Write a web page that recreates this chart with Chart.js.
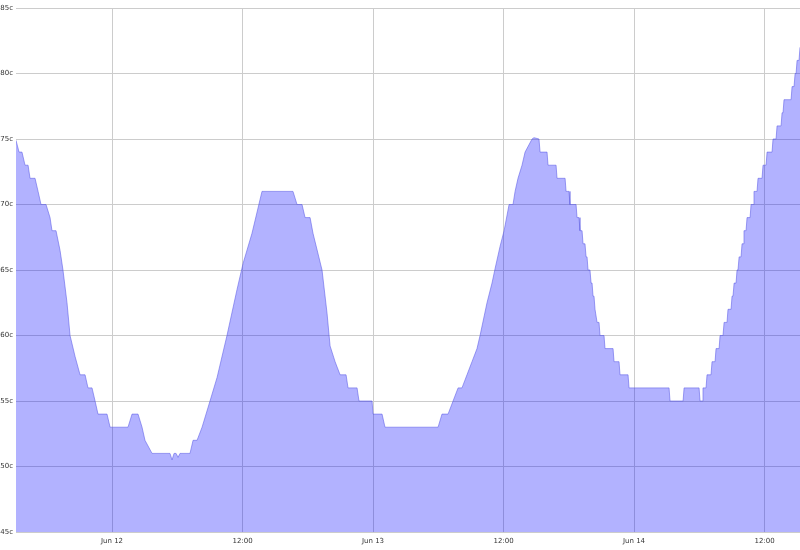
<!DOCTYPE html>
<html>
<head>
<meta charset="utf-8">
<script src="https://cdn.jsdelivr.net/npm/chart.js@4"></script>
<style>
  body { margin: 0; background: #fff; }
  #wrap { width: 800px; height: 550px; }
</style>
</head>
<body>
<div id="wrap"><canvas id="tempChart"></canvas></div>
<script>
// hours since Jun 12 00:00
const hours = [
  -8.83, -8.55, -8.28, -8.00, -7.72, -7.54, -7.08, -6.80, -6.53, -6.07,
  -5.70, -5.52, -5.15, -4.78, -4.51, -4.14, -3.86, -3.40, -2.94, -2.48,
  -2.21, -1.84, -1.56, -1.29, -0.46, -0.18, 1.47, 1.84, 2.39, 2.76,
  3.03, 3.68, 5.33, 5.52, 5.70, 5.89, 6.07, 6.25, 7.17, 7.45,
  7.82, 8.28, 9.01, 9.66, 10.57, 11.49, 12.05, 12.87, 13.79, 16.64,
  17.01, 17.47, 17.75, 18.21, 18.48, 19.31, 19.77, 20.05, 20.51, 20.97,
  21.52, 21.70, 22.53, 22.71, 23.91, 24.00, 24.83, 25.10, 29.98, 30.34,
  30.90, 31.36, 31.82, 32.18, 32.64, 33.10, 33.56, 33.84, 34.48, 34.94,
  35.22, 35.68, 36.05, 36.51, 36.87, 37.06, 37.33, 37.70, 37.98, 38.62,
  38.80, 39.26, 39.36, 40.00, 40.09, 40.83, 40.92, 41.66, 41.75, 42.02,
  42.11, 42.67, 42.76, 42.94, 43.03, 43.22, 43.31, 43.49, 43.59, 43.68,
  43.77, 43.95, 44.05, 44.14, 44.23, 44.32, 44.41, 44.50, 44.60, 44.78,
  44.87, 45.24, 45.33, 46.07, 46.16, 46.62, 46.71, 47.45, 47.54, 51.22,
  51.31, 52.51, 52.60, 53.98, 54.07, 54.25, 54.34, 54.62, 54.71, 55.08,
  55.17, 55.45, 55.54, 55.82, 55.91, 56.18, 56.28, 56.55, 56.64, 56.92,
  57.01, 57.10, 57.20, 57.38, 57.47, 57.56, 57.66, 57.84, 57.93, 58.02,
  58.11, 58.30, 58.39, 58.67, 58.76, 58.94, 59.03, 59.31, 59.40, 59.77,
  59.86, 60.14, 60.23, 60.69, 60.78, 61.06, 61.15, 61.52, 61.61, 61.70,
  61.79, 62.44, 62.53, 62.71, 62.81, 62.90, 62.99, 63.17, 63.26
];
const temps = [
  74.9, 74, 74, 73, 73, 72, 72, 71, 70, 70,
  69, 68, 68, 66.5, 65, 62.5, 60, 58.4, 57, 57,
  56, 56, 55, 54, 54, 53, 53, 54, 54, 53,
  52, 51, 51, 50.5, 51, 51, 50.7, 51, 51, 52,
  52, 53, 55, 56.8, 60, 63.5, 65.5, 67.8, 71, 71,
  70, 70, 69, 69, 67.8, 65, 61.7, 59.2, 58, 57,
  57, 56, 56, 55, 55, 54, 54, 53, 53, 54,
  54, 55, 56, 56, 57, 58, 59, 60, 62.5, 64,
  65.1, 66.8, 68, 70, 70, 71, 72, 73, 74, 75,
  75.1, 75, 74, 74, 73, 73, 72, 72, 71, 71,
  70, 70, 69, 69, 68, 68, 67, 67, 66, 66,
  65, 65, 64, 64, 63, 63, 62, 62, 61, 61,
  60, 60, 59, 59, 58, 58, 57, 57, 56, 56,
  55, 55, 56, 56, 55, 55, 56, 56, 57, 57,
  58, 58, 59, 59, 60, 60, 61, 61, 62, 62,
  63, 63, 64, 64, 65, 65, 66, 66, 67, 67,
  68, 68, 69, 69, 70, 70, 71, 71, 72, 72,
  73, 73, 74, 74, 75, 75, 76, 76, 77, 77,
  78, 78, 79, 79, 80, 80, 81, 81, 82
];
const tickHours = [0, 12, 24, 36, 48, 60];
const tickLabels = ['Jun 12', '12:00', 'Jun 13', '12:00', 'Jun 14', '12:00'];
const yTicks = [45, 50, 55, 60, 65, 70, 75, 80, 85];

const points = hours.map((h, i) => ({ x: h, y: temps[i] }));
const tickFont = { family: 'DejaVu Sans', size: 7 };

new Chart(document.getElementById('tempChart'), {
  type: 'line',
  data: {
    datasets: [{
      data: points,
      borderColor: 'rgba(90, 90, 230, 0.55)',
      borderWidth: 1,
      backgroundColor: 'rgba(0, 0, 255, 0.3)',
      fill: 'start',
      pointRadius: 0,
      tension: 0
    }]
  },
  options: {
    responsive: true,
    maintainAspectRatio: false,
    animation: false,
    layout: { padding: { top: 8, right: 0, left: 0, bottom: 0 } },
    plugins: { legend: { display: false }, tooltip: { enabled: false } },
    scales: {
      x: {
        type: 'linear',
        min: hours[0],
        max: hours[hours.length - 1],
        afterBuildTicks: axis => { axis.ticks = tickHours.map(v => ({ value: v })); },
        afterFit: axis => { axis.height = 18; },
        ticks: {
          font: tickFont,
          color: '#333',
          padding: 5,
          maxRotation: 0,
          callback: (v) => tickLabels[tickHours.indexOf(v)]
        },
        grid: { color: '#cccccc', drawTicks: false },
        border: { display: false }
      },
      y: {
        min: 45,
        max: 85,
        afterBuildTicks: axis => { axis.ticks = yTicks.map(v => ({ value: v })); },
        afterFit: axis => { axis.width = 16; },
        ticks: {
          font: tickFont,
          color: '#333',
          padding: 3,
          callback: v => v + 'c'
        },
        grid: { color: '#cccccc', drawTicks: false },
        border: { display: false }
      }
    }
  }
});
</script>
</body>
</html>
